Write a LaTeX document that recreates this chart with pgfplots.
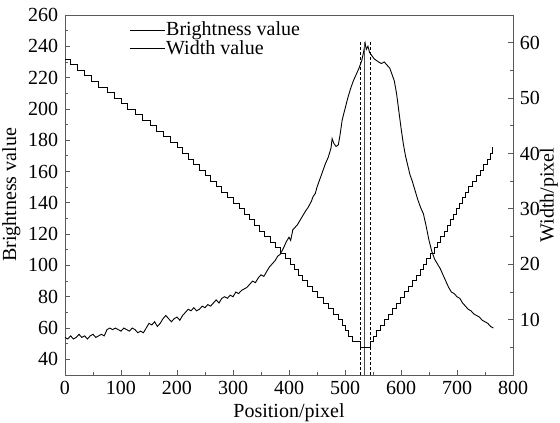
\documentclass[border=0pt]{standalone}
\usepackage{fontspec}
\setmainfont{Liberation Serif}
\usepackage{pgfplots}
\pgfplotsset{compat=1.18}
\definecolor{axgray}{RGB}{90,90,90}
\begin{document}
\fontsize{20}{24}\selectfont
\begin{tikzpicture}
\pgfplotsset{
  common/.style={
    scale only axis, width=448pt, height=360pt,
    xmin=0, xmax=800,
    /pgf/number format/assume math mode=true,
    tick label style={font=\fontsize{20}{24}\selectfont, text=black},
    label style={font=\fontsize{20}{24}\selectfont},
    tick align=inside,
    major tick length=5pt, minor tick length=3pt,
    every tick/.style={axgray, line width=0.8pt},
    axis line style={axgray, line width=0.9pt},
  }
}
\begin{axis}[common, name=ax,
  ymin=30, ymax=260,
  xtick={0,100,...,800}, minor xtick={50,150,...,750},
  ytick={40,60,...,260}, minor ytick={50,70,...,250},
  xtick pos=bottom, ytick pos=left,
  xticklabel style={yshift=1pt},
  xlabel={Position/pixel}, ylabel={Brightness value},
  every axis x label/.style={at={(axis description cs:0.5,-0.104)}, anchor=center},
  every axis y label/.style={at={(axis description cs:-0.12,0.5)}, rotate=90, anchor=center},
  legend style={draw=none, fill=none, at={(0.143,0.985)}, anchor=north west,
    font=\fontsize{20}{24}\selectfont, row sep=0pt, inner sep=0pt,
    nodes={inner sep=1pt}},
  legend cell align=left,
  legend image code/.code={\draw[#1] (0pt,0pt) -- (35pt,0pt);},
]
\addplot[black, line width=0.9pt] coordinates {
(0,54)(5,53)(10,55)(15,53)(20,54)(25,56)(30,54)(35,55)(40,53)(45,55)
(50,56)(55,54)(60,55)(65,56)(70,55)(75,59)(80,60)(85,59)(90,60)(95,59)
(100,58)(105,60)(110,59)(115,58)(120,60)(125,59)(130,57)(135,58)(140,57)(145,60)
(150,63)(155,62)(160,64)(165,61)(170,63)(175,66)(180,68)(185,66)(190,64)(195,66)
(200,67)(205,65)(210,68)(215,70)(220,72)(225,71)(230,73)(235,71)(240,72)(245,74)
(250,73)(255,75)(260,74)(265,76)(270,78)(275,76)(280,79)(285,80)(290,79)(295,81)
(300,80)(305,83)(310,82)(315,84)(320,85)(325,86)(330,88)(335,90)(340,89)(345,92)
(350,94)(355,93)(360,96)(365,99)(370,101)(375,103)(380,106)(384,107)(390,111)(395,115)
(400,118)(403,116)(407,123)(410,124)(415,126)(420,129)(425,132)(430,135)(434,137)(440,141)
(443,144)(447,146)(450,150)(455,155)(460,160)(465,165)(470,169)(475,175)(477,181)(480,178)
(484,176)(488,177)(491,183)(495,193)(500,200)(505,207)(510,213)(515,218)(520,222)(525,226)
(530,231)(533,236)(536,242)(538,238)(541,240)(544,236)(548,234)(552,232)(556,231)(560,230)
(565,229)(570,230)(575,228)(580,226)(584,222)(588,218)(592,210)(596,199)(600,188)(604,178)
(608,170)(612,164)(616,158)(620,154)(625,148)(630,142)(635,137)(640,133)(645,125)(650,116)
(655,109)(660,104)(665,101)(670,98)(675,94)(680,90)(685,86)(690,83)(695,82)(700,80)
(705,79)(710,76)(715,74)(720,72)(725,71)(730,69)(735,68)(740,67)(745,65)(750,64)
(755,63)(760,61)(765,60)
};
\addlegendentry{Brightness value}
\addlegendimage{black, line width=0.9pt}
\addlegendentry{Width value}
\addplot[black, dash pattern=on 3pt off 2pt, line width=0.7pt, forget plot] coordinates {(527,30)(527,243)};
\addplot[black, dash pattern=on 3pt off 2pt, line width=0.7pt, forget plot] coordinates {(545,30)(545,243)};
\addplot[black!70, line width=0.7pt, forget plot] coordinates {(535,30)(535,243)};
\end{axis}
\begin{axis}[common,
  ymin=0, ymax=65,
  axis x line=none, axis y line*=right,
  ytick={10,20,...,60}, minor ytick={5,15,...,55},
  ylabel={Width/pixel},
  every axis y label/.style={at={(axis description cs:1.08,0.5)}, rotate=90, anchor=center},
]
\addplot[black, line width=0.9pt, const plot] coordinates {
(0,57)(10,56)(22,55)(35,54)(47,53)(60,52)(75,51)(88,50)(100,49)(112,48)
(125,47)(138,46)(152,45)(164,44)(176,43)(188,42)(200,41)(210,40)(220,39)(230,38)
(240,37)(250,36)(260,35)(270,34)(280,33)(290,32)(300,31)(311,30)(321,29)(330,28)
(339,27)(348,26)(357,25)(366,24)(375,23)(384,22)(393,21)(402,20)(410,19)(417,18)
(424,17)(433,16)(441,15)(451,14)(461,13)(470,12)(479,11)(488,10)(495,9)(501,8)
(507,7)(513,6)(528,5)(546,6)(550,7)(557,8)(564,9)(571,10)(578,11)(585,12)
(592,13)(599,14)(606,15)(613,16)(620,17)(627,18)(634,19)(640,20)(646,21)(652,22)
(659,23)(665,24)(671,25)(677,26)(683,27)(689,28)(694,29)(699,30)(704,31)(709,32)
(715,33)(721,34)(727,35)(734,36)(741,37)(748,38)(754,39)(759,40)(763,41)(765,41)
};
\end{axis}
\pgfresetboundingbox
\path ([xshift=-65pt,yshift=-48pt]ax.south west) rectangle ([xshift=47pt,yshift=15pt]ax.north east);
\end{tikzpicture}
\end{document}
